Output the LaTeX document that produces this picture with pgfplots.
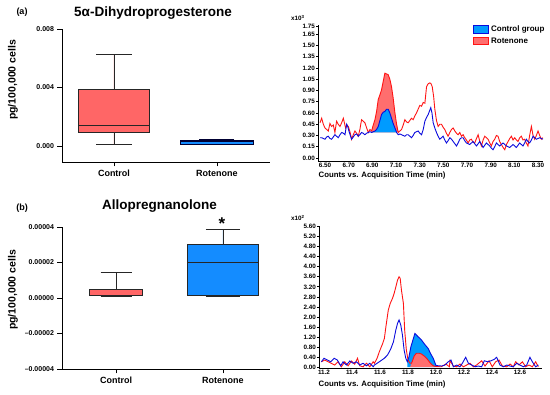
\documentclass[border=0pt]{standalone}
\usepackage{fontspec}
\setmainfont{Liberation Sans}
\usepackage{pgfplots}
\pgfplotsset{compat=1.18}
\usepgfplotslibrary{statistics}
\definecolor{boxred}{RGB}{255,102,102}
\definecolor{boxblue}{RGB}{20,140,255}
\definecolor{linered}{RGB}{255,20,20}
\definecolor{lineblue}{RGB}{10,10,220}
\definecolor{fillred}{RGB}{255,110,110}
\definecolor{fillblue}{RGB}{0,155,255}
\pgfplotsset{
 common/.style={scale only axis, anchor=south west,
   axis x line*=bottom, axis y line*=left,
   axis line style={black, line width=0.8pt},
   tick style={black, line width=0.7pt},
   tick align=outside, major tick length=4.5pt,
   /pgf/number format/assume math mode=true, scaled ticks=false},
 boxax/.style={common, xtick={0,1}, xticklabels={Control,Rotenone},
   x tick label style={font=\fontsize{9}{10}\selectfont\bfseries},
   y tick label style={font=\fontsize{7}{8}\selectfont\bfseries},
   boxplot/draw direction=y},
 chrom/.style={common, major tick length=2pt,
   tick label style={font=\fontsize{6.3}{7}\selectfont\bfseries},
   xtick style={draw=none},
   xticklabel style={yshift=0.6pt, inner sep=0.5pt, /pgf/number format/.cd, fixed, fixed zerofill, precision=#1},
   yticklabel style={inner sep=1pt, /pgf/number format/.cd, fixed, fixed zerofill, precision=2},
   every axis plot/.append style={line width=0.9pt}},
}
\begin{document}
\begin{tikzpicture}
\path[use as bounding box] (0pt,0pt) rectangle (550pt,395pt);
% ---------- (a) box plot
\begin{axis}[boxax, at={(62pt,233pt)}, width=208pt, height=133pt,
  xmin=-0.505, xmax=1.515, ymin=-0.00109, ymax=0.008,
  ytick={0,0.004,0.008}, yticklabels={0.000,0.004,0.008}]
\addplot[boxplot prepared={draw position=0, lower whisker=0.0001, lower quartile=0.00094,
  median=0.00138, upper quartile=0.00388, upper whisker=0.00623, box extend=0.69, whisker extend=0.34},
  draw=black!85, line width=0.9pt, fill=boxred] coordinates {};
\addplot[boxplot prepared={draw position=1, lower whisker=0.00012, lower quartile=0.00014,
  median=0.00029, upper quartile=0.00041, upper whisker=0.00046, box extend=0.70, whisker extend=0.34},
  draw=black!80!blue, line width=0.9pt, fill=boxblue] coordinates {};
\end{axis}
% ---------- (b) box plot
\begin{axis}[boxax, at={(62pt,26pt)}, width=208pt, height=142pt,
  xmin=-0.506, xmax=1.44, ymin=-0.00004, ymax=0.00004,
  ytick={-0.00004,-0.00002,0,0.00002,0.00004},
  yticklabels={–0.00004,–0.00002,0.00000,0.00002,0.00004}]
\addplot[boxplot prepared={draw position=0, lower whisker=0.0000006, lower quartile=0.0000012,
  median=0.0000014, upper quartile=0.0000047, upper whisker=0.0000146, box extend=0.50, whisker extend=0.29},
  draw=black!85, line width=0.9pt, fill=boxred] coordinates {};
\addplot[boxplot prepared={draw position=1, lower whisker=0.0000006, lower quartile=0.0000017,
  median=0.000020, upper quartile=0.0000302, upper whisker=0.0000387, box extend=0.665, whisker extend=0.32},
  draw=black!85, line width=0.9pt, fill=boxblue] coordinates {};
\end{axis}
% ---------- (a) chromatogram
\begin{axis}[chrom=2, at={(318pt,234pt)}, width=225pt, height=136pt,
  xmin=6.441, xmax=8.342, ymin=-0.040, ymax=1.772,
  xtick={6.5,6.7,6.9,7.1,7.3,7.5,7.7,7.9,8.1,8.3},
  ytick={0,0.15,0.30,0.45,0.60,0.75,0.90,1.05,1.20,1.35,1.50,1.65},
  extra y ticks={1.75}, extra y tick style={yticklabel style={/pgf/number format/.cd, fixed, fixed zerofill, precision=2}},
  legend style={at={(0.689,1.01)}, anchor=north west, draw=none, fill=none, inner sep=0pt,
    font=\fontsize{8}{9}\selectfont\bfseries, row sep=0.5pt, cells={anchor=west}},
  legend image code/.code={\draw[#1] (0pt,-3.5pt) rectangle (15pt,3.8pt);}]
\addlegendimage{fill=fillblue, draw=lineblue, line width=0.9pt}
\addlegendentry{Control group}
\addlegendimage{fill=fillred, draw=linered, line width=0.9pt}
\addlegendentry{Rotenone}
\addplot[fill=fillred, draw=none, forget plot] coordinates {(6.89,0.34)(6.894,0.36)(6.908,0.44)(6.922,0.51)(6.936,0.62)(6.950,0.78)(6.964,0.84)(6.978,0.91)(6.992,1.02)(7.006,1.13)(7.020,1.12)(7.034,1.11)(7.048,1.05)(7.062,0.95)(7.076,0.80)(7.091,0.60)(7.105,0.45)(7.119,0.34)} -- cycle;
\addplot[fill=fillblue, draw=none, forget plot] coordinates {(6.895,0.34)(6.908,0.35)(6.922,0.36)(6.936,0.38)(6.950,0.42)(6.964,0.50)(6.978,0.58)(6.992,0.61)(7.006,0.62)(7.020,0.65)(7.034,0.65)(7.048,0.60)(7.062,0.53)(7.076,0.46)(7.091,0.40)(7.105,0.34)} -- cycle;
\addplot[linered, forget plot] coordinates {(6.458,0.47)(6.472,0.53)(6.486,0.45)(6.500,0.40)(6.514,0.38)(6.528,0.36)(6.542,0.46)(6.556,0.42)(6.570,0.44)(6.584,0.34)(6.598,0.49)(6.612,0.45)(6.627,0.42)(6.641,0.47)(6.655,0.53)(6.674,0.40)(6.685,0.44)(6.697,0.42)(6.711,0.35)(6.725,0.25)(6.739,0.31)(6.753,0.36)(6.767,0.33)(6.781,0.29)(6.795,0.38)(6.809,0.51)(6.823,0.49)(6.837,0.47)(6.852,0.40)(6.866,0.34)(6.880,0.38)(6.894,0.36)(6.908,0.44)(6.922,0.51)(6.936,0.62)(6.950,0.78)(6.964,0.84)(6.978,0.91)(6.992,1.02)(7.006,1.13)(7.020,1.12)(7.034,1.11)(7.048,1.05)(7.062,0.95)(7.076,0.80)(7.091,0.60)(7.105,0.45)(7.119,0.34)(7.133,0.36)(7.147,0.38)(7.161,0.44)(7.175,0.51)(7.189,0.48)(7.203,0.47)(7.217,0.50)(7.231,0.53)(7.245,0.51)(7.259,0.56)(7.273,0.60)(7.287,0.65)(7.301,0.70)(7.316,0.69)(7.330,0.74)(7.344,0.73)(7.358,0.95)(7.372,0.99)(7.386,1.00)(7.396,0.99)(7.406,0.95)(7.418,0.82)(7.428,0.65)(7.442,0.50)(7.456,0.42)(7.470,0.45)(7.484,0.45)(7.498,0.41)(7.512,0.38)(7.526,0.33)(7.540,0.29)(7.555,0.34)(7.569,0.38)(7.583,0.40)(7.597,0.36)(7.611,0.33)(7.625,0.31)(7.639,0.34)(7.653,0.29)(7.667,0.31)(7.681,0.27)(7.695,0.24)(7.709,0.20)(7.723,0.24)(7.737,0.25)(7.751,0.21)(7.765,0.20)(7.780,0.26)(7.794,0.31)(7.808,0.22)(7.822,0.16)(7.836,0.24)(7.850,0.29)(7.864,0.27)(7.878,0.25)(7.892,0.20)(7.906,0.16)(7.920,0.22)(7.934,0.25)(7.948,0.30)(7.962,0.29)(7.976,0.22)(7.990,0.18)(8.005,0.14)(8.019,0.11)(8.033,0.18)(8.047,0.22)(8.061,0.26)(8.075,0.29)(8.089,0.24)(8.103,0.27)(8.117,0.24)(8.131,0.22)(8.145,0.27)(8.159,0.29)(8.173,0.24)(8.187,0.25)(8.201,0.20)(8.215,0.16)(8.229,0.30)(8.244,0.42)(8.258,0.30)(8.272,0.25)(8.286,0.30)(8.300,0.36)(8.314,0.30)(8.328,0.25)(8.340,0.27)};
\addplot[lineblue, forget plot] coordinates {(6.458,0.27)(6.472,0.27)(6.486,0.26)(6.500,0.25)(6.514,0.28)(6.528,0.29)(6.542,0.26)(6.556,0.25)(6.570,0.28)(6.584,0.31)(6.598,0.29)(6.612,0.27)(6.627,0.31)(6.641,0.34)(6.655,0.33)(6.669,0.31)(6.683,0.45)(6.692,0.42)(6.702,0.36)(6.714,0.30)(6.725,0.25)(6.739,0.28)(6.753,0.31)(6.767,0.32)(6.781,0.29)(6.795,0.31)(6.809,0.34)(6.823,0.33)(6.837,0.31)(6.852,0.33)(6.866,0.34)(6.880,0.35)(6.894,0.34)(6.908,0.35)(6.922,0.36)(6.936,0.38)(6.950,0.42)(6.964,0.50)(6.978,0.58)(6.992,0.61)(7.006,0.62)(7.020,0.65)(7.034,0.65)(7.048,0.60)(7.062,0.53)(7.076,0.46)(7.091,0.40)(7.105,0.34)(7.119,0.31)(7.133,0.32)(7.147,0.31)(7.161,0.30)(7.175,0.29)(7.189,0.31)(7.203,0.31)(7.217,0.29)(7.231,0.27)(7.245,0.30)(7.259,0.34)(7.273,0.35)(7.287,0.36)(7.301,0.33)(7.316,0.31)(7.330,0.38)(7.344,0.49)(7.358,0.54)(7.372,0.58)(7.384,0.63)(7.394,0.67)(7.404,0.60)(7.414,0.47)(7.428,0.40)(7.442,0.34)(7.456,0.29)(7.470,0.25)(7.484,0.27)(7.498,0.29)(7.512,0.24)(7.526,0.20)(7.540,0.23)(7.555,0.27)(7.569,0.25)(7.583,0.22)(7.597,0.19)(7.611,0.16)(7.625,0.20)(7.639,0.25)(7.653,0.27)(7.667,0.27)(7.681,0.23)(7.695,0.20)(7.709,0.19)(7.723,0.18)(7.737,0.20)(7.751,0.22)(7.765,0.19)(7.780,0.16)(7.794,0.19)(7.808,0.22)(7.822,0.18)(7.836,0.14)(7.850,0.17)(7.864,0.20)(7.878,0.18)(7.892,0.16)(7.906,0.13)(7.920,0.11)(7.934,0.15)(7.948,0.20)(7.962,0.18)(7.976,0.16)(7.990,0.18)(8.004,0.20)(8.019,0.18)(8.033,0.16)(8.047,0.15)(8.061,0.14)(8.075,0.16)(8.089,0.18)(8.103,0.16)(8.117,0.14)(8.131,0.17)(8.145,0.20)(8.159,0.18)(8.173,0.16)(8.187,0.20)(8.201,0.25)(8.215,0.22)(8.229,0.20)(8.244,0.24)(8.258,0.29)(8.272,0.27)(8.286,0.25)(8.300,0.26)(8.314,0.27)(8.328,0.26)(8.342,0.25)};
\end{axis}
% ---------- (b) chromatogram
\begin{axis}[chrom=1, at={(319pt,26.7pt)}, width=222.7pt, height=142.3pt,
  xmin=11.164, xmax=12.755, ymin=-0.05, ymax=5.628,
  xtick={11.2,11.4,11.6,11.8,12.0,12.2,12.4,12.6},
  ytick={0,0.4,0.8,1.2,1.6,2.0,2.4,2.8,3.2,3.6,4.0,4.4,4.8,5.2,5.6}]
\addplot[fill=fillblue, draw=none] coordinates {(11.795,0)(11.795,0.21)(11.807,0.41)(11.82,0.8)(11.849,1.34)(11.87,1.22)(11.896,1.08)(11.92,0.9)(11.944,0.74)(11.96,0.55)(11.98,0.35)(12.0,0.06)(12.0,0)} -- cycle;
\addplot[fill=fillred, draw=none] coordinates {(11.815,0)(11.825,0.15)(11.845,0.45)(11.86,0.55)(11.88,0.55)(11.896,0.52)(11.92,0.42)(11.94,0.30)(11.96,0.15)(11.98,0.05)(11.99,0)} -- cycle;
\addplot[linered] coordinates {(11.181,0.21)(11.205,0.28)(11.229,0.21)(11.252,0.15)(11.276,0.08)(11.300,0.21)(11.324,0.01)(11.348,0.21)(11.372,0.05)(11.396,0.24)(11.419,0.11)(11.439,0.35)(11.455,0.05)(11.479,0.01)(11.503,0.15)(11.527,0.01)(11.551,0.21)(11.56,0.15)(11.579,0.35)(11.595,0.61)(11.619,0.94)(11.631,1.14)(11.642,1.61)(11.659,2.27)(11.673,2.54)(11.689,2.74)(11.701,2.94)(11.713,3.20)(11.725,3.47)(11.736,3.60)(11.744,3.54)(11.753,3.07)(11.767,2.54)(11.776,1.48)(11.788,0.68)(11.80,0.28)(11.814,0.15)(11.825,0.15)(11.845,0.45)(11.86,0.55)(11.88,0.55)(11.896,0.52)(11.92,0.42)(11.94,0.30)(11.96,0.15)(11.98,0.05)(12.0,0.02)(12.036,0.01)(12.071,0.12)(12.095,0.01)(12.1,0.25)(12.124,0.04)(12.148,0.01)(12.171,0.12)(12.195,0.01)(12.219,0.08)(12.243,0.15)(12.267,0.01)(12.290,0.08)(12.326,0.25)(12.350,0.04)(12.379,0.25)(12.402,0.01)(12.426,0.21)(12.45,0.28)(12.474,0.04)(12.505,0.01)(12.529,0.12)(12.552,0.01)(12.569,0.21)(12.593,0.08)(12.617,0.21)(12.64,0.01)(12.664,0.08)(12.688,0.01)(12.712,0.21)(12.731,0.01)};
\addplot[lineblue] coordinates {(11.181,0.21)(11.2,0.35)(11.224,0.28)(11.248,0.21)(11.272,0.35)(11.295,0.28)(11.319,0.05)(11.336,0.21)(11.36,0.08)(11.384,0.24)(11.408,0.15)(11.431,0.21)(11.455,0.08)(11.479,0.15)(11.503,0.05)(11.527,0.15)(11.551,0.01)(11.56,0.08)(11.595,0.21)(11.631,0.35)(11.654,0.48)(11.678,0.74)(11.696,1.01)(11.713,1.48)(11.725,1.74)(11.736,1.88)(11.748,1.68)(11.76,1.28)(11.772,0.68)(11.784,0.35)(11.795,0.21)(11.807,0.41)(11.82,0.8)(11.849,1.34)(11.87,1.22)(11.896,1.08)(11.92,0.9)(11.944,0.74)(11.96,0.55)(11.98,0.35)(12.0,0.06)(12.041,0.04)(12.064,0.08)(12.088,0.21)(12.107,0.28)(12.124,0.01)(12.148,0.08)(12.171,0.01)(12.188,0.15)(12.212,0.39)(12.231,0.15)(12.255,0.08)(12.279,0.01)(12.302,0.04)(12.326,0.01)(12.345,0.25)(12.369,0.21)(12.393,0.25)(12.417,0.31)(12.433,0.39)(12.457,0.08)(12.481,0.01)(12.505,0.08)(12.529,0.04)(12.552,0.01)(12.576,0.15)(12.6,0.08)(12.624,0.01)(12.648,0.08)(12.671,0.39)(12.688,0.21)(12.712,0.01)(12.731,0.08)};
\end{axis}
% ---------- texts
\node[font=\fontsize{9}{10}\selectfont\bfseries] at (22pt,383pt) {(a)};
\node[font=\fontsize{13.5}{15}\selectfont\bfseries] at (153pt,381.5pt) {5α-Dihydroprogesterone};
\node[font=\fontsize{10.5}{12}\selectfont\bfseries, rotate=90] at (13pt,315pt) {pg/100,000 cells};
\node[font=\fontsize{9}{10}\selectfont\bfseries] at (22pt,187pt) {(b)};
\node[font=\fontsize{13.5}{15}\selectfont\bfseries] at (159.5pt,189pt) {Allopregnanolone};
\node[font=\fontsize{10.5}{12}\selectfont\bfseries, rotate=90] at (13pt,105pt) {pg/100,000 cells};
\node[font=\fontsize{17}{18}\selectfont\bfseries] at (222pt,171pt) {*};
\node[font=\fontsize{6.3}{7}\selectfont\bfseries, anchor=west, inner sep=0pt] at (291pt,377pt) {x10\textsuperscript{3}};
\node[font=\fontsize{6.3}{7}\selectfont\bfseries, anchor=west, inner sep=0pt] at (291pt,177pt) {x10\textsuperscript{2}};
\node[font=\fontsize{7.8}{9}\selectfont\bfseries, anchor=west, inner sep=0pt] at (318.5pt,219.5pt) {Counts vs. Acquisition Time (min)};
\node[font=\fontsize{7.8}{9}\selectfont\bfseries, anchor=west, inner sep=0pt] at (318.5pt,10.5pt) {Counts vs. Acquisition Time (min)};
\end{tikzpicture}
\end{document}
